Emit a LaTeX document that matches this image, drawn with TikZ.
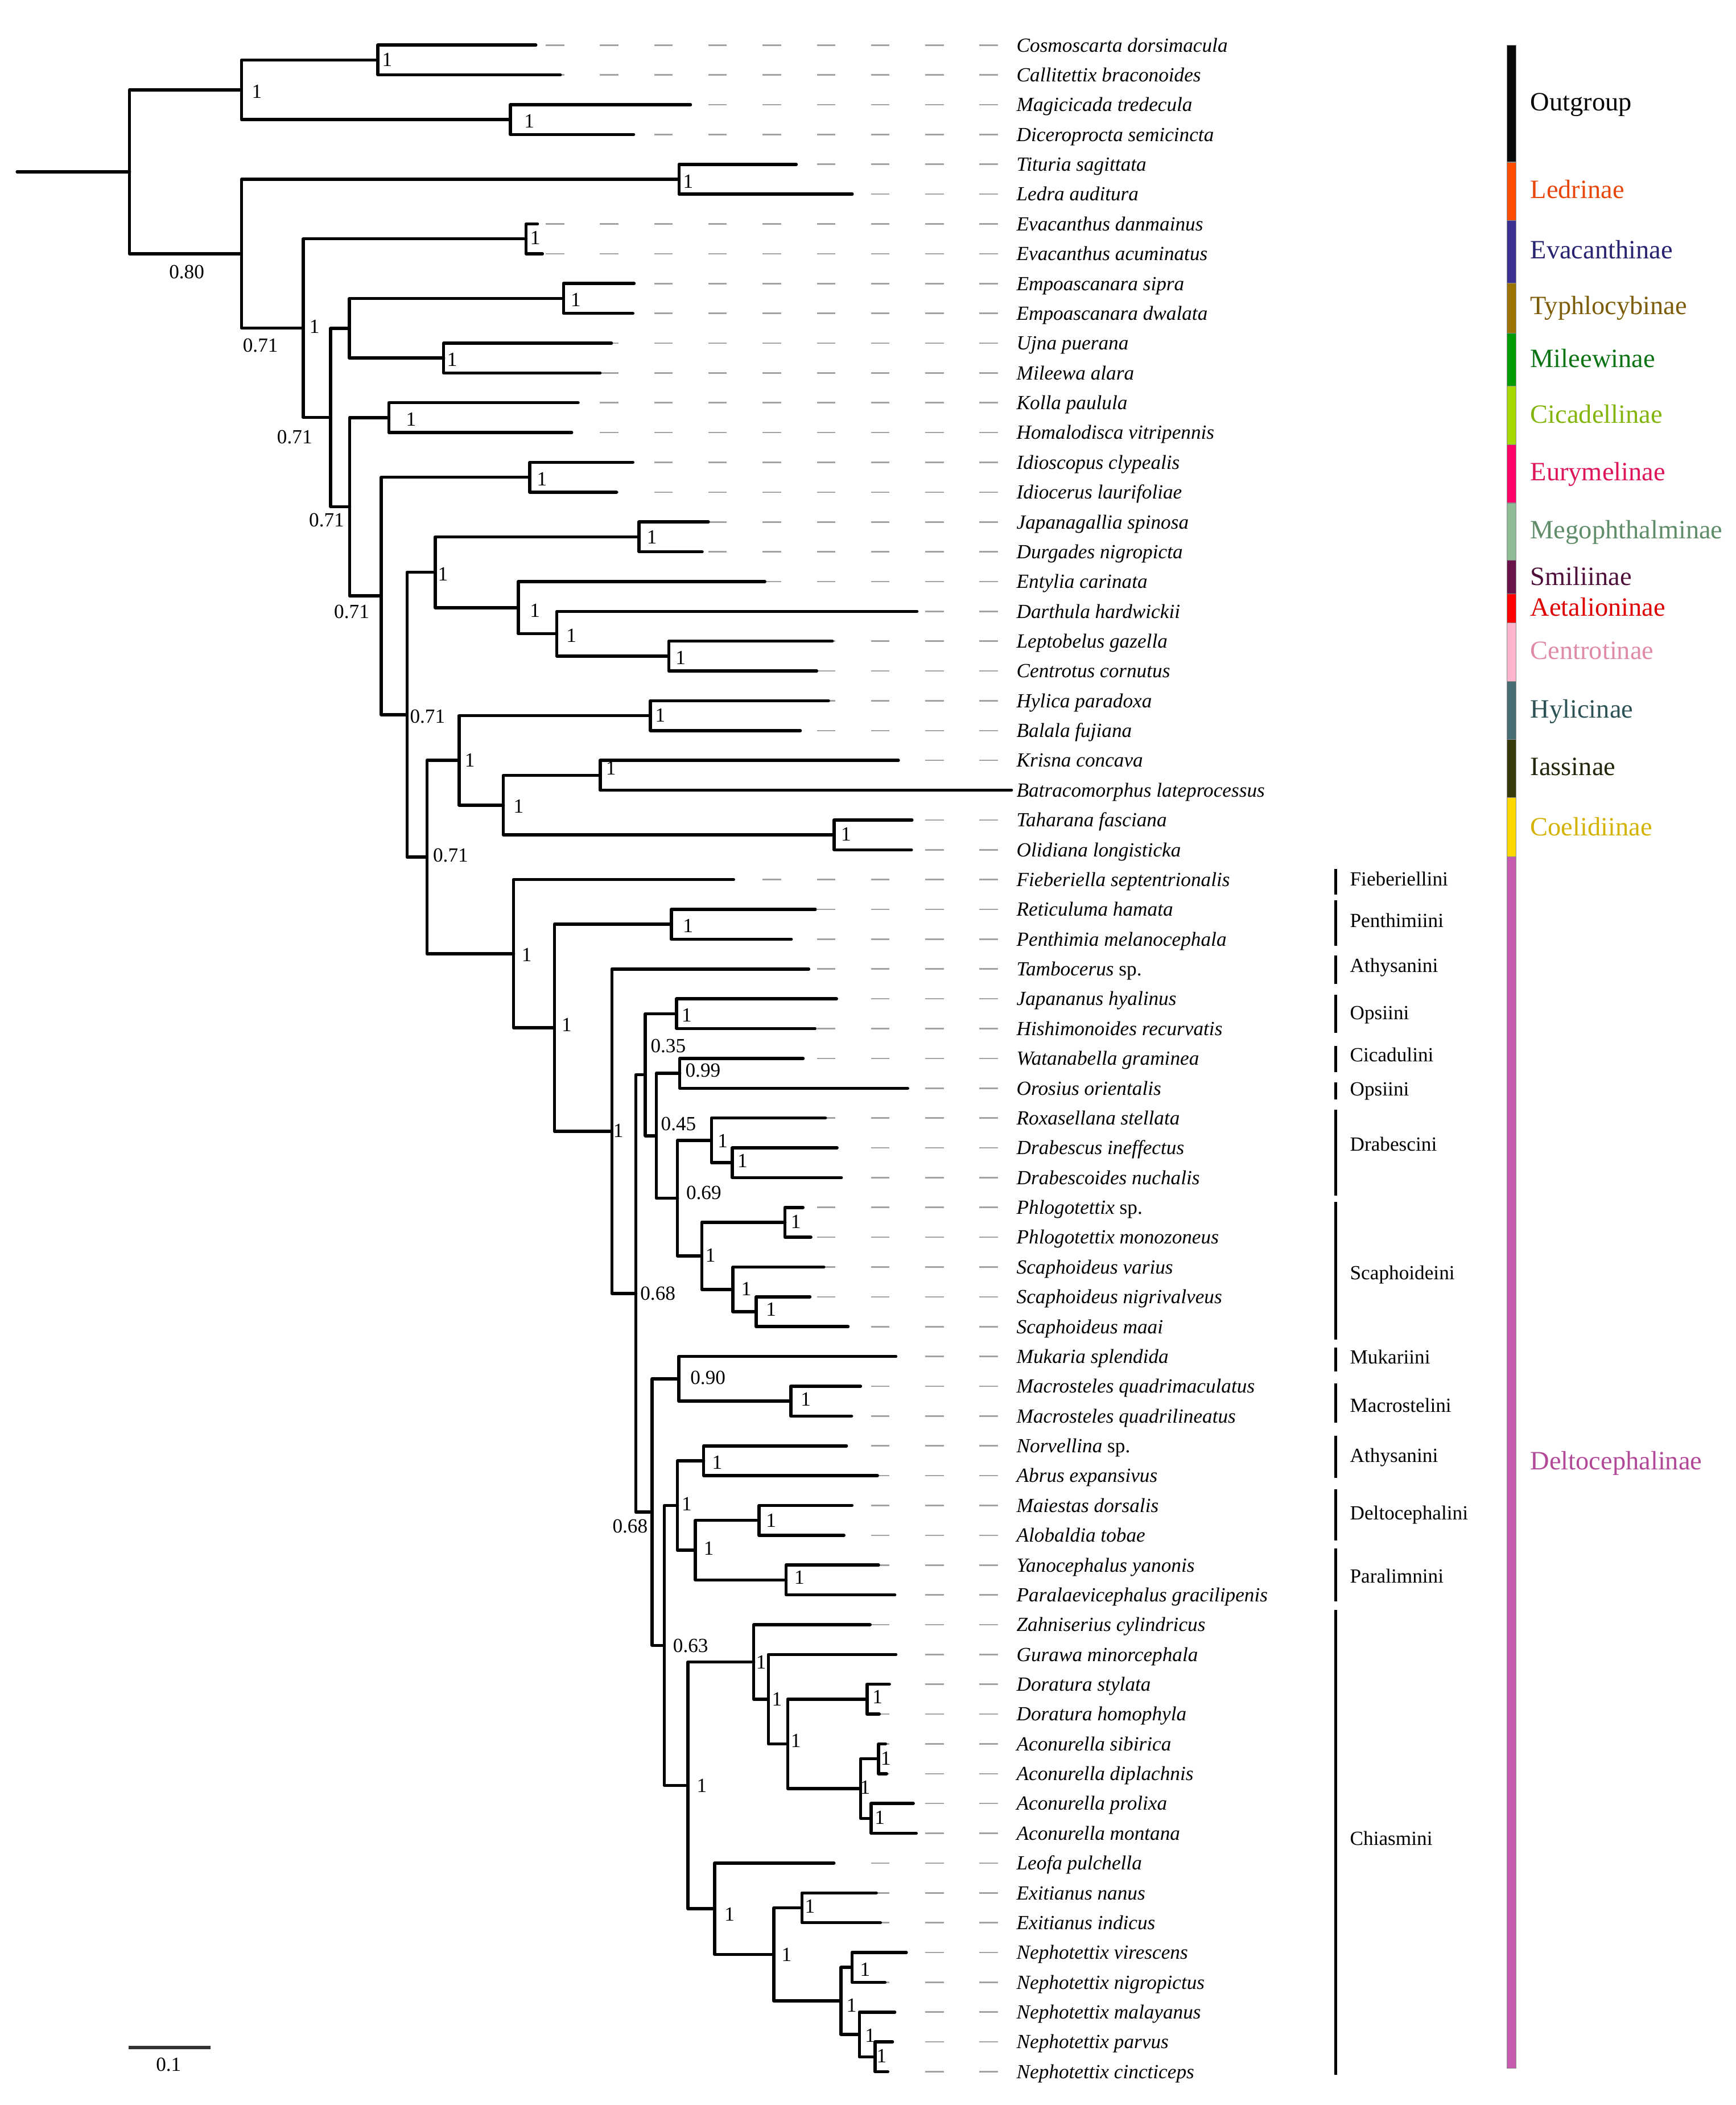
\documentclass[tikz,border=0pt]{standalone}
\usepackage{fontspec}
\setmainfont{Liberation Serif}
\usepackage{tikz}
\usepackage{xcolor}
\usetikzlibrary{calc}
\definecolor{Outgroupbar}{RGB}{8,8,8}
\definecolor{Ledrinaebar}{RGB}{255,77,0}
\definecolor{Evacanthinaebar}{RGB}{60,48,145}
\definecolor{Typhlocybinaebar}{RGB}{155,115,0}
\definecolor{Mileewinaebar}{RGB}{0,155,0}
\definecolor{Cicadellinaebar}{RGB}{165,215,0}
\definecolor{Eurymelinaebar}{RGB}{255,0,105}
\definecolor{Megophthalminaebar}{RGB}{143,187,150}
\definecolor{Smiliinaebar}{RGB}{105,20,75}
\definecolor{Aetalioninaebar}{RGB}{255,0,0}
\definecolor{Centrotinaebar}{RGB}{255,180,205}
\definecolor{Hylicinaebar}{RGB}{70,110,115}
\definecolor{Iassinaebar}{RGB}{55,58,10}
\definecolor{Coelidiinaebar}{RGB}{255,215,0}
\definecolor{Deltocephalinaebar}{RGB}{198,90,175}
\definecolor{Outgrouptext}{RGB}{0,0,0}
\definecolor{Ledrinaetext}{RGB}{232,70,10}
\definecolor{Evacanthinaetext}{RGB}{40,35,112}
\definecolor{Typhlocybinaetext}{RGB}{125,92,10}
\definecolor{Mileewinaetext}{RGB}{10,115,20}
\definecolor{Cicadellinaetext}{RGB}{130,180,10}
\definecolor{Eurymelinaetext}{RGB}{222,20,92}
\definecolor{Megophthalminaetext}{RGB}{95,140,105}
\definecolor{Smiliinaetext}{RGB}{78,15,58}
\definecolor{Aetalioninaetext}{RGB}{222,0,0}
\definecolor{Centrotinaetext}{RGB}{222,138,168}
\definecolor{Hylicinaetext}{RGB}{45,82,86}
\definecolor{Iassinaetext}{RGB}{35,38,10}
\definecolor{Coelidiinaetext}{RGB}{212,178,0}
\definecolor{Deltocephalinaetext}{RGB}{178,72,152}

% one leaf: name, row, end of branch, label
\newcommand{\addleaf}[4]{%
  \pgfmathsetmacro{\leafy}{33.6+22.2*(#2-1)}
  \coordinate (#1) at (#3,\leafy);
  \coordinate (#1-d) at (743.5,\leafy);
  \node[taxon] (#1-l) at (757,\leafy+5) {#4};
  \draw[leader] (#1-d) -- (#1);}
% one clade: name, x of node, upper child, lower child
\newcommand{\addclade}[4]{%
  \path let \p1=(#3), \p2=(#4) in coordinate (#1) at ({#2*0.2mm},{(\y1+\y2)/2});
  \draw[branch] (#3) -| (#1) |- (#4);}
% one support value
\newcommand{\addsupp}[4]{\node[supp] (#1) at (#2,#3) {#4};}

\begin{document}
\begin{tikzpicture}[x=0.2mm,y=-0.2mm,
    branch/.style={line width=0.47mm,line cap=round,line join=round},
    leader/.style={draw=black!36,line width=0.22mm,dash pattern=on 2.76mm off 5.32mm},
    taxon/.style={anchor=base west,inner sep=0pt,font=\fontsize{8.5}{10}\selectfont\itshape},
    supp/.style={inner sep=0pt,font=\fontsize{8.5}{10}\selectfont},
    tribe/.style={anchor=base west,inner sep=0pt,font=\fontsize{8.5}{10}\selectfont},
    subfam/.style={anchor=base west,inner sep=0pt,font=\fontsize{11.2}{13}\selectfont},
    tribebar/.style={line width=0.45mm}]
    \useasboundingbox (0,0) rectangle (1293,1568);

    % Leaves
    \addleaf{t1}{1}{399.2}{Cosmoscarta dorsimacula}
    \addleaf{t2}{2}{417.4}{Callitettix braconoides}
    \addleaf{t3}{3}{514.4}{Magicicada tredecula}
    \addleaf{t4}{4}{472.0}{Diceroprocta semicincta}
    \addleaf{t5}{5}{593.2}{Tituria sagittata}
    \addleaf{t6}{6}{634.9}{Ledra auditura}
    \addleaf{t7}{7}{400.4}{Evacanthus danmainus}
    \addleaf{t8}{8}{404.1}{Evacanthus acuminatus}
    \addleaf{t9}{9}{472.4}{Empoascanara sipra}
    \addleaf{t10}{10}{471.5}{Empoascanara dwalata}
    \addleaf{t11}{11}{455.5}{Ujna puerana}
    \addleaf{t12}{12}{447.0}{Mileewa alara}
    \addleaf{t13}{13}{430.7}{Kolla paulula}
    \addleaf{t14}{14}{425.9}{Homalodisca vitripennis}
    \addleaf{t15}{15}{471.5}{Idioscopus clypealis}
    \addleaf{t16}{16}{459.3}{Idiocerus laurifoliae}
    \addleaf{t17}{17}{527.7}{Japanagallia spinosa}
    \addleaf{t18}{18}{523.1}{Durgades nigropicta}
    \addleaf{t19}{19}{569.8}{Entylia carinata}
    \addleaf{t20}{20}{683.1}{Darthula hardwickii}
    \addleaf{t21}{21}{620.0}{Leptobelus gazella}
    \addleaf{t22}{22}{608.4}{Centrotus cornutus}
    \addleaf{t23}{23}{617.2}{Hylica paradoxa}
    \addleaf{t24}{24}{596.2}{Balala fujiana}
    \addleaf{t25}{25}{669.3}{Krisna concava}
    \addleaf{t26}{26}{753.5}{Batracomorphus lateprocessus}
    \addleaf{t27}{27}{679.4}{Taharana fasciana}
    \addleaf{t28}{28}{679.0}{Olidiana longisticka}
    \addleaf{t29}{29}{546.5}{Fieberiella septentrionalis}
    \addleaf{t30}{30}{607.4}{Reticuluma hamata}
    \addleaf{t31}{31}{589.5}{Penthimia melanocephala}
    \addleaf{t32}{32}{602.5}{Tambocerus \textup{sp.}}
    \addleaf{t33}{33}{623.2}{Japananus hyalinus}
    \addleaf{t34}{34}{607.2}{Hishimonoides recurvatis}
    \addleaf{t35}{35}{598.3}{Watanabella graminea}
    \addleaf{t36}{36}{676.2}{Orosius orientalis}
    \addleaf{t37}{37}{614.9}{Roxasellana stellata}
    \addleaf{t38}{38}{623.6}{Drabescus ineffectus}
    \addleaf{t39}{39}{626.8}{Drabescoides nuchalis}
    \addleaf{t40}{40}{598.2}{Phlogotettix \textup{sp.}}
    \addleaf{t41}{41}{604.1}{Phlogotettix monozoneus}
    \addleaf{t42}{42}{613.7}{Scaphoideus varius}
    \addleaf{t43}{43}{603.4}{Scaphoideus nigrivalveus}
    \addleaf{t44}{44}{631.8}{Scaphoideus maai}
    \addleaf{t45}{45}{667.4}{Mukaria splendida}
    \addleaf{t46}{46}{641.1}{Macrosteles quadrimaculatus}
    \addleaf{t47}{47}{634.4}{Macrosteles quadrilineatus}
    \addleaf{t48}{48}{630.6}{Norvellina \textup{sp.}}
    \addleaf{t49}{49}{653.7}{Abrus expansivus}
    \addleaf{t50}{50}{634.7}{Maiestas dorsalis}
    \addleaf{t51}{51}{628.7}{Alobaldia tobae}
    \addleaf{t52}{52}{654.5}{Yanocephalus yanonis}
    \addleaf{t53}{53}{666.6}{Paralaevicephalus gracilipenis}
    \addleaf{t54}{54}{648.2}{Zahniserius cylindricus}
    \addleaf{t55}{55}{667.4}{Gurawa minorcephala}
    \addleaf{t56}{56}{662.6}{Doratura stylata}
    \addleaf{t57}{57}{655.0}{Doratura homophyla}
    \addleaf{t58}{58}{659.7}{Aconurella sibirica}
    \addleaf{t59}{59}{660.5}{Aconurella diplachnis}
    \addleaf{t60}{60}{680.4}{Aconurella prolixa}
    \addleaf{t61}{61}{682.6}{Aconurella montana}
    \addleaf{t62}{62}{621.3}{Leofa pulchella}
    \addleaf{t63}{63}{652.8}{Exitianus nanus}
    \addleaf{t64}{64}{655.9}{Exitianus indicus}
    \addleaf{t65}{65}{675.2}{Nephotettix virescens}
    \addleaf{t66}{66}{659.3}{Nephotettix nigropictus}
    \addleaf{t67}{67}{666.6}{Nephotettix malayanus}
    \addleaf{t68}{68}{664.9}{Nephotettix parvus}
    \addleaf{t69}{69}{661.4}{Nephotettix cincticeps}

    % Outgroup and other subfamilies
    \addclade{nCos}{281.5}{t1}{t2}
    \addclade{nMag}{380.3}{t3}{t4}
    \addclade{nOut}{179.9}{nCos}{nMag}
    \addclade{nLed}{505.9}{t5}{t6}
    \addclade{nEva}{391.9}{t7}{t8}
    \addclade{nEmp}{419.8}{t9}{t10}
    \addclade{nUjn}{330.5}{t11}{t12}
    \addclade{nTyp}{260.3}{nEmp}{nUjn}
    \addclade{nKol}{289.7}{t13}{t14}
    \addclade{nIdi}{394.7}{t15}{t16}
    \addclade{nJap}{476.1}{t17}{t18}
    \addclade{nLep}{498.2}{t21}{t22}
    \addclade{nDar}{414.8}{t20}{nLep}
    \addclade{nEnt}{386.1}{t19}{nDar}
    \addclade{nMem}{324.2}{nJap}{nEnt}
    \addclade{nHyl}{484.6}{t23}{t24}
    \addclade{nKri}{447.1}{t25}{t26}
    \addclade{nTah}{621.4}{t27}{t28}
    \addclade{nKT}{375.0}{nKri}{nTah}
    \addclade{nHK}{342.0}{nHyl}{nKT}

    % Deltocephalinae
    \addclade{nRet}{500.1}{t30}{t31}
    \addclade{nJH}{504.1}{t33}{t34}
    \addclade{nWO}{506.4}{t35}{t36}
    \addclade{nDr2}{545.5}{t38}{t39}
    \addclade{nDr1}{530.0}{t37}{nDr2}
    \addclade{nPh}{584.8}{t40}{t41}
    \addclade{nSc2}{563.3}{t43}{t44}
    \addclade{nSc1}{546.0}{t42}{nSc2}
    \addclade{nSca}{522.8}{nPh}{nSc1}
    \addclade{nDS}{504.7}{nDr1}{nSca}
    \addclade{nWD}{488.9}{nWO}{nDS}
    \addclade{nJW}{480.8}{nJH}{nWD}
    \addclade{nMac}{589.1}{t46}{t47}
    \addclade{nMuk}{505.6}{t45}{nMac}
    \addclade{nNor}{524.2}{t48}{t49}
    \addclade{nMai}{565.5}{t50}{t51}
    \addclade{nYan}{585.6}{t52}{t53}
    \addclade{nMY}{518.0}{nMai}{nYan}
    \addclade{nNM}{504.7}{nNor}{nMY}
    \addclade{nDor}{645.9}{t56}{t57}
    \addclade{nAc1}{654.5}{t58}{t59}
    \addclade{nAc2}{649.0}{t60}{t61}
    \addclade{nAco}{641.1}{nAc1}{nAc2}
    \addclade{nDA}{586.8}{nDor}{nAco}
    \addclade{nGur}{572.4}{t55}{nDA}
    \addclade{nZah}{561.5}{t54}{nGur}
    \addclade{nExi}{597.4}{t63}{t64}
    \addclade{nNe3}{651.9}{t68}{t69}
    \addclade{nNe2}{640.2}{t67}{nNe3}
    \addclade{nNe1}{634.7}{t65}{t66}
    \addclade{nNep}{626.6}{nNe1}{nNe2}
    \addclade{nEN}{576.5}{nExi}{nNep}
    \addclade{nLeo}{532.3}{t62}{nEN}
    \addclade{nChi}{512.5}{nZah}{nLeo}
    \addclade{nNC}{494.9}{nNM}{nChi}
    \addclade{nMC}{485.8}{nMuk}{nNC}
    \addclade{nD3}{473.7}{nJW}{nMC}
    \addclade{nD2}{455.8}{t32}{nD3}
    \addclade{nD1}{413.0}{nRet}{nD2}
    \addclade{nDel}{382.6}{t29}{nD1}

    % Backbone
    \addclade{nB5}{318.1}{nHK}{nDel}
    \addclade{nB4}{303.2}{nMem}{nB5}
    \addclade{nB3}{284.0}{nIdi}{nB4}
    \addclade{nB2}{260.5}{nKol}{nB3}
    \addclade{nB1}{246.3}{nTyp}{nB2}
    \addclade{nB0}{225.9}{nEva}{nB1}
    \addclade{nIng}{179.9}{nLed}{nB0}
    \addclade{nRoot}{96.5}{nOut}{nIng}
    \path let \p1=(nRoot) in coordinate (stem) at ({12.8*0.2mm},\y1);
    \draw[branch] (stem) -- (nRoot);

    % Support values
    \addsupp{s-cos}{288.4}{44.4}{1}
    \addsupp{s-out}{191.4}{68.3}{1}
    \addsupp{s-mag}{394.3}{90.3}{1}
    \addsupp{s-led}{512.7}{135.2}{1}
    \addsupp{s-eva}{398.7}{177.1}{1}
    \addsupp{s-ing}{139.1}{202.6}{0.80}
    \addsupp{s-emp}{429.0}{223.4}{1}
    \addsupp{s-b0}{234.3}{243.4}{1}
    \addsupp{s-b0b}{194.0}{257.3}{0.71}
    \addsupp{s-ujn}{336.9}{267.9}{1}
    \addsupp{s-kol}{306.2}{312.4}{1}
    \addsupp{s-b1}{219.5}{325.5}{0.71}
    \addsupp{s-idi}{403.7}{356.7}{1}
    \addsupp{s-b2}{243.3}{387.6}{0.71}
    \addsupp{s-jap}{485.6}{400.3}{1}
    \addsupp{s-mem}{330.0}{427.6}{1}
    \addsupp{s-ent}{398.5}{454.9}{1}
    \addsupp{s-b3}{262.0}{455.6}{0.71}
    \addsupp{s-dar}{425.7}{473.4}{1}
    \addsupp{s-lep}{507.1}{490.1}{1}
    \addsupp{s-hyl}{491.9}{532.7}{1}
    \addsupp{s-b4}{318.5}{533.8}{0.71}
    \addsupp{s-hk}{350.0}{566.4}{1}
    \addsupp{s-kri}{455.1}{572.1}{1}
    \addsupp{s-kt}{386.4}{600.7}{1}
    \addsupp{s-tah}{630.3}{621.5}{1}
    \addsupp{s-b5}{335.7}{637.3}{0.71}
    \addsupp{s-ret}{512.6}{689.5}{1}
    \addsupp{s-del}{392.4}{711.4}{1}
    \addsupp{s-jh}{511.6}{756.1}{1}
    \addsupp{s-d1}{422.2}{763.5}{1}
    \addsupp{s-jw}{497.8}{779.0}{0.35}
    \addsupp{s-wo}{523.7}{797.5}{0.99}
    \addsupp{s-wd}{505.5}{837.3}{0.45}
    \addsupp{s-d2}{460.6}{842.3}{1}
    \addsupp{s-dr1}{538.4}{849.7}{1}
    \addsupp{s-dr2}{553.2}{864.6}{1}
    \addsupp{s-ds}{524.3}{888.7}{0.69}
    \addsupp{s-ph}{592.9}{910.2}{1}
    \addsupp{s-sca}{529.3}{935.1}{1}
    \addsupp{s-sc1}{556.0}{960.2}{1}
    \addsupp{s-d3}{490.1}{963.7}{0.68}
    \addsupp{s-sc2}{574.4}{975.5}{1}
    \addsupp{s-muk}{527.4}{1026.3}{0.90}
    \addsupp{s-mac}{600.3}{1042.3}{1}
    \addsupp{s-nor}{534.3}{1089.2}{1}
    \addsupp{s-nm}{511.6}{1120.4}{1}
    \addsupp{s-mai}{574.4}{1132.5}{1}
    \addsupp{s-mc}{469.4}{1136.8}{0.68}
    \addsupp{s-my}{528.0}{1153.5}{1}
    \addsupp{s-yan}{595.5}{1174.9}{1}
    \addsupp{s-nc}{514.5}{1225.8}{0.63}
    \addsupp{s-zah}{567.0}{1238.3}{1}
    \addsupp{s-dor}{653.7}{1264.2}{1}
    \addsupp{s-gur}{578.8}{1265.9}{1}
    \addsupp{s-da}{592.9}{1296.8}{1}
    \addsupp{s-ac1}{660.0}{1309.8}{1}
    \addsupp{s-chi}{522.8}{1330.3}{1}
    \addsupp{s-aco}{644.5}{1331.5}{1}
    \addsupp{s-ac2}{655.4}{1353.9}{1}
    \addsupp{s-exi}{603.4}{1420.0}{1}
    \addsupp{s-leo}{543.5}{1425.9}{1}
    \addsupp{s-en}{586.0}{1456.1}{1}
    \addsupp{s-ne1}{644.5}{1467.2}{1}
    \addsupp{s-nep}{634.4}{1493.9}{1}
    \addsupp{s-ne2}{648.2}{1516.3}{1}
    \addsupp{s-ne3}{656.8}{1531.6}{1}

    % Tribes of Deltocephalinae
    \foreach \ya/\yb/\yt/\tname in {647.1/666.5/659.8/Fieberiellini,
        670.6/704.6/690.9/Penthimiini, 711.7/732.8/724.3/Athysanini,
        741.0/769.2/759.5/Opsiini, 779.1/798.5/790.6/Cicadulini,
        806.1/819.0/816.4/Opsiini, 826.7/890.6/857.5/Drabescini,
        895.3/998.0/953.1/Scaphoideini, 1003.9/1021.5/1015.9/Mukariini,
        1030.3/1059.6/1051.7/Macrostelini, 1069.6/1100.7/1089.2/Athysanini,
        1109.5/1147.6/1132.1/Deltocephalini, 1153.5/1192.8/1179.0/Paralimnini,
        1199.2/1545.4/1374.4/Chiasmini} {
      \draw[tribebar] (995,\ya) -- (995,\yb);
      \node[tribe] (tribe-\ya) at (1005.4,\yt) {\tname};
    }

    % Subfamilies
    \foreach \sname/\ya/\yb/\yt in {Outgroup/33.8/120.8/82.6,
        Ledrinae/120.8/164.3/147.8, Evacanthinae/164.3/211.0/192.5,
        Typhlocybinae/211.0/248.1/234.4, Mileewinae/248.1/287.7/273.6,
        Cicadellinae/287.7/331.2/315.1, Eurymelinae/331.2/374.7/357.8,
        Megophthalminae/374.7/417.4/401.4, Smiliinae/417.4/442.3/435.8,
        Aetalioninae/442.3/464.1/458.7, Centrotinae/464.1/507.6/491.1,
        Hylicinae/507.6/550.7/534.6, Iassinae/550.7/594.2/577.4,
        Coelidiinae/594.2/638.0/622.4, Deltocephalinae/638.0/1540.7/1094.5} {
      \fill[fill=\sname bar,draw=black!45,line width=0.1mm] (1122.8,\ya) rectangle (1129.3,\yb);
      \node[subfam,text=\sname text] (sub-\sname) at (1139.8,\yt) {\sname};
    }

    % Scale bar
    \coordinate (bar-l) at (95.7,1525.2);
    \coordinate (bar-r) at (156.8,1525.2);
    \draw[line width=0.5mm,draw=black!80] (bar-l) -- (bar-r);
    \node[supp] (bar-lab) at (125.6,1538.1) {0.1};
\end{tikzpicture}
\end{document}
